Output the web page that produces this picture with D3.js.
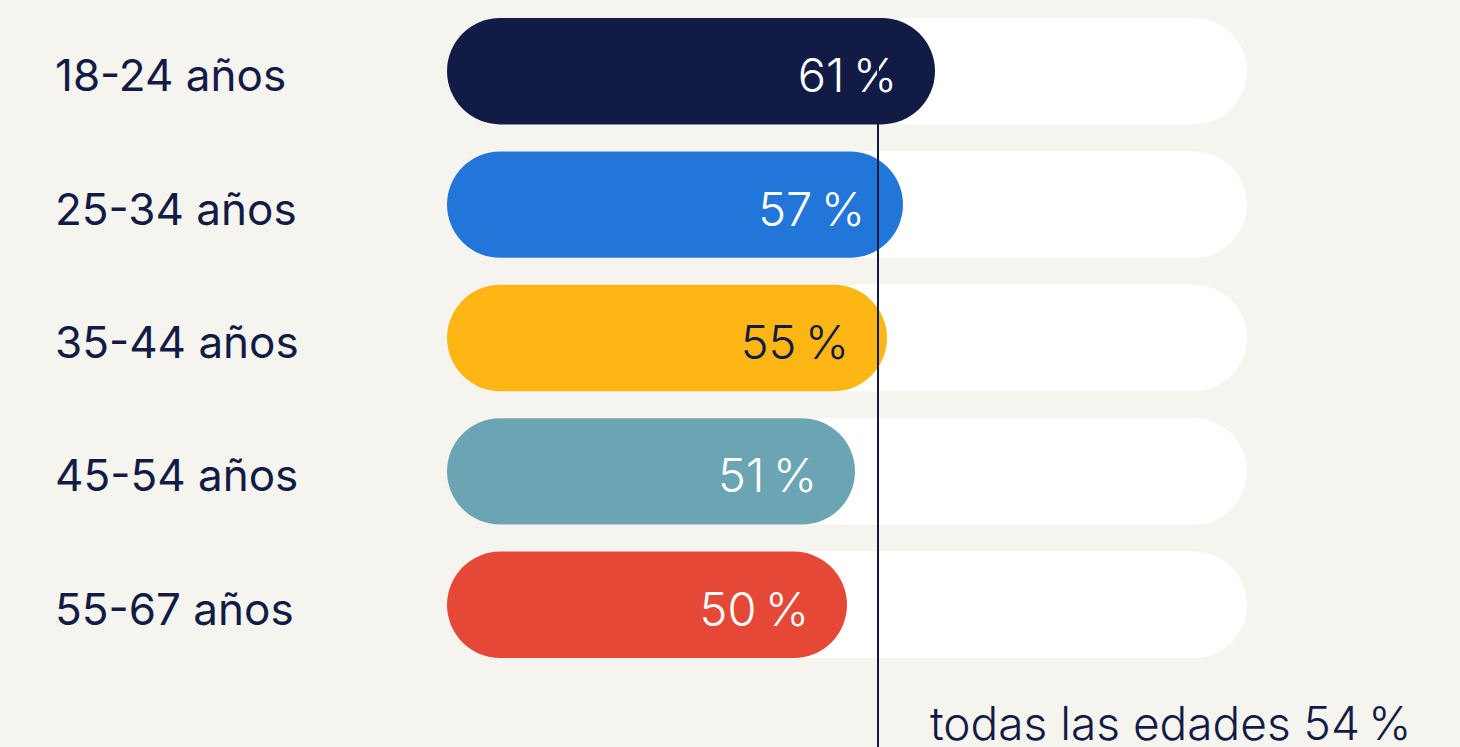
<!DOCTYPE html>
<html>
<head>
<meta charset="utf-8">
<script src="https://cdn.jsdelivr.net/npm/d3@7"></script>
<style>
  html, body { margin: 0; padding: 0; background: #f5f4ef; }
  svg { display: block; }
</style>
</head>
<body>
<svg id="chart" width="1460" height="747"></svg>
<script>
// Share by age group, plus the all-ages reference value
const categories = ["18-24 años", "25-34 años", "35-44 años", "45-54 años", "55-67 años"];
const values = [61, 57, 55, 51, 50];
const barColors = ["#121b45", "#2376d9", "#fdb614", "#6ba5b4", "#e64838"];
const valueTextColors = ["#ffffff", "#ffffff", "#121b45", "#ffffff", "#ffffff"];
const overallValue = 54;
const overallLabel = "todas las edades";

const navy = "#121b45";
const svg = d3.select("#chart");

const x = d3.scaleLinear().domain([0, 100]).range([447, 1247]);
const y = d3.scaleBand().domain(categories).range([18, 658]).paddingInner(0.2024).paddingOuter(0);
const bh = y.bandwidth();
const r = bh / 2;

const font = "Inter, 'Noto Sans', sans-serif";

// background tracks (full 100 %)
svg.append("g").selectAll("rect")
  .data(categories)
  .join("rect")
  .attr("x", x(0))
  .attr("y", d => y(d))
  .attr("width", x(100) - x(0))
  .attr("height", bh)
  .attr("rx", r).attr("ry", r)
  .attr("fill", "#ffffff");

// value bars
svg.append("g").selectAll("rect")
  .data(values)
  .join("rect")
  .attr("x", x(0))
  .attr("y", (d, i) => y(categories[i]))
  .attr("width", d => x(d) - x(0))
  .attr("height", bh)
  .attr("rx", r).attr("ry", r)
  .attr("fill", (d, i) => barColors[i]);

// value labels inside bar ends
svg.append("g").selectAll("text")
  .data(values)
  .join("text")
  .attr("x", d => x(d) - 38)
  .attr("y", (d, i) => y(categories[i]) + bh / 2 + 21)
  .attr("text-anchor", "end")
  .attr("font-family", font)
  .attr("font-weight", 300)
  .attr("font-size", 47)
  .attr("fill", (d, i) => valueTextColors[i])
  .text(d => d + "\u202F%");

// category labels
svg.append("g").selectAll("text")
  .data(categories)
  .join("text")
  .attr("x", 55)
  .attr("y", d => y(d) + bh / 2 + 20)
  .attr("font-family", font)
  .attr("font-weight", 400)
  .attr("font-size", 44)
  .attr("fill", navy)
  .text(d => d);

// reference line for all ages
svg.append("line")
  .attr("x1", x(overallValue) - 1).attr("x2", x(overallValue) - 1)
  .attr("y1", 18).attr("y2", 747)
  .attr("stroke", navy)
  .attr("stroke-width", 2);

svg.append("text")
  .attr("x", x(overallValue) + 51)
  .attr("y", 740)
  .attr("font-family", font)
  .attr("font-weight", 300)
  .attr("font-size", 46)
  .attr("fill", navy)
  .text(overallLabel + " " + overallValue + "\u202F%");
</script>
</body>
</html>
